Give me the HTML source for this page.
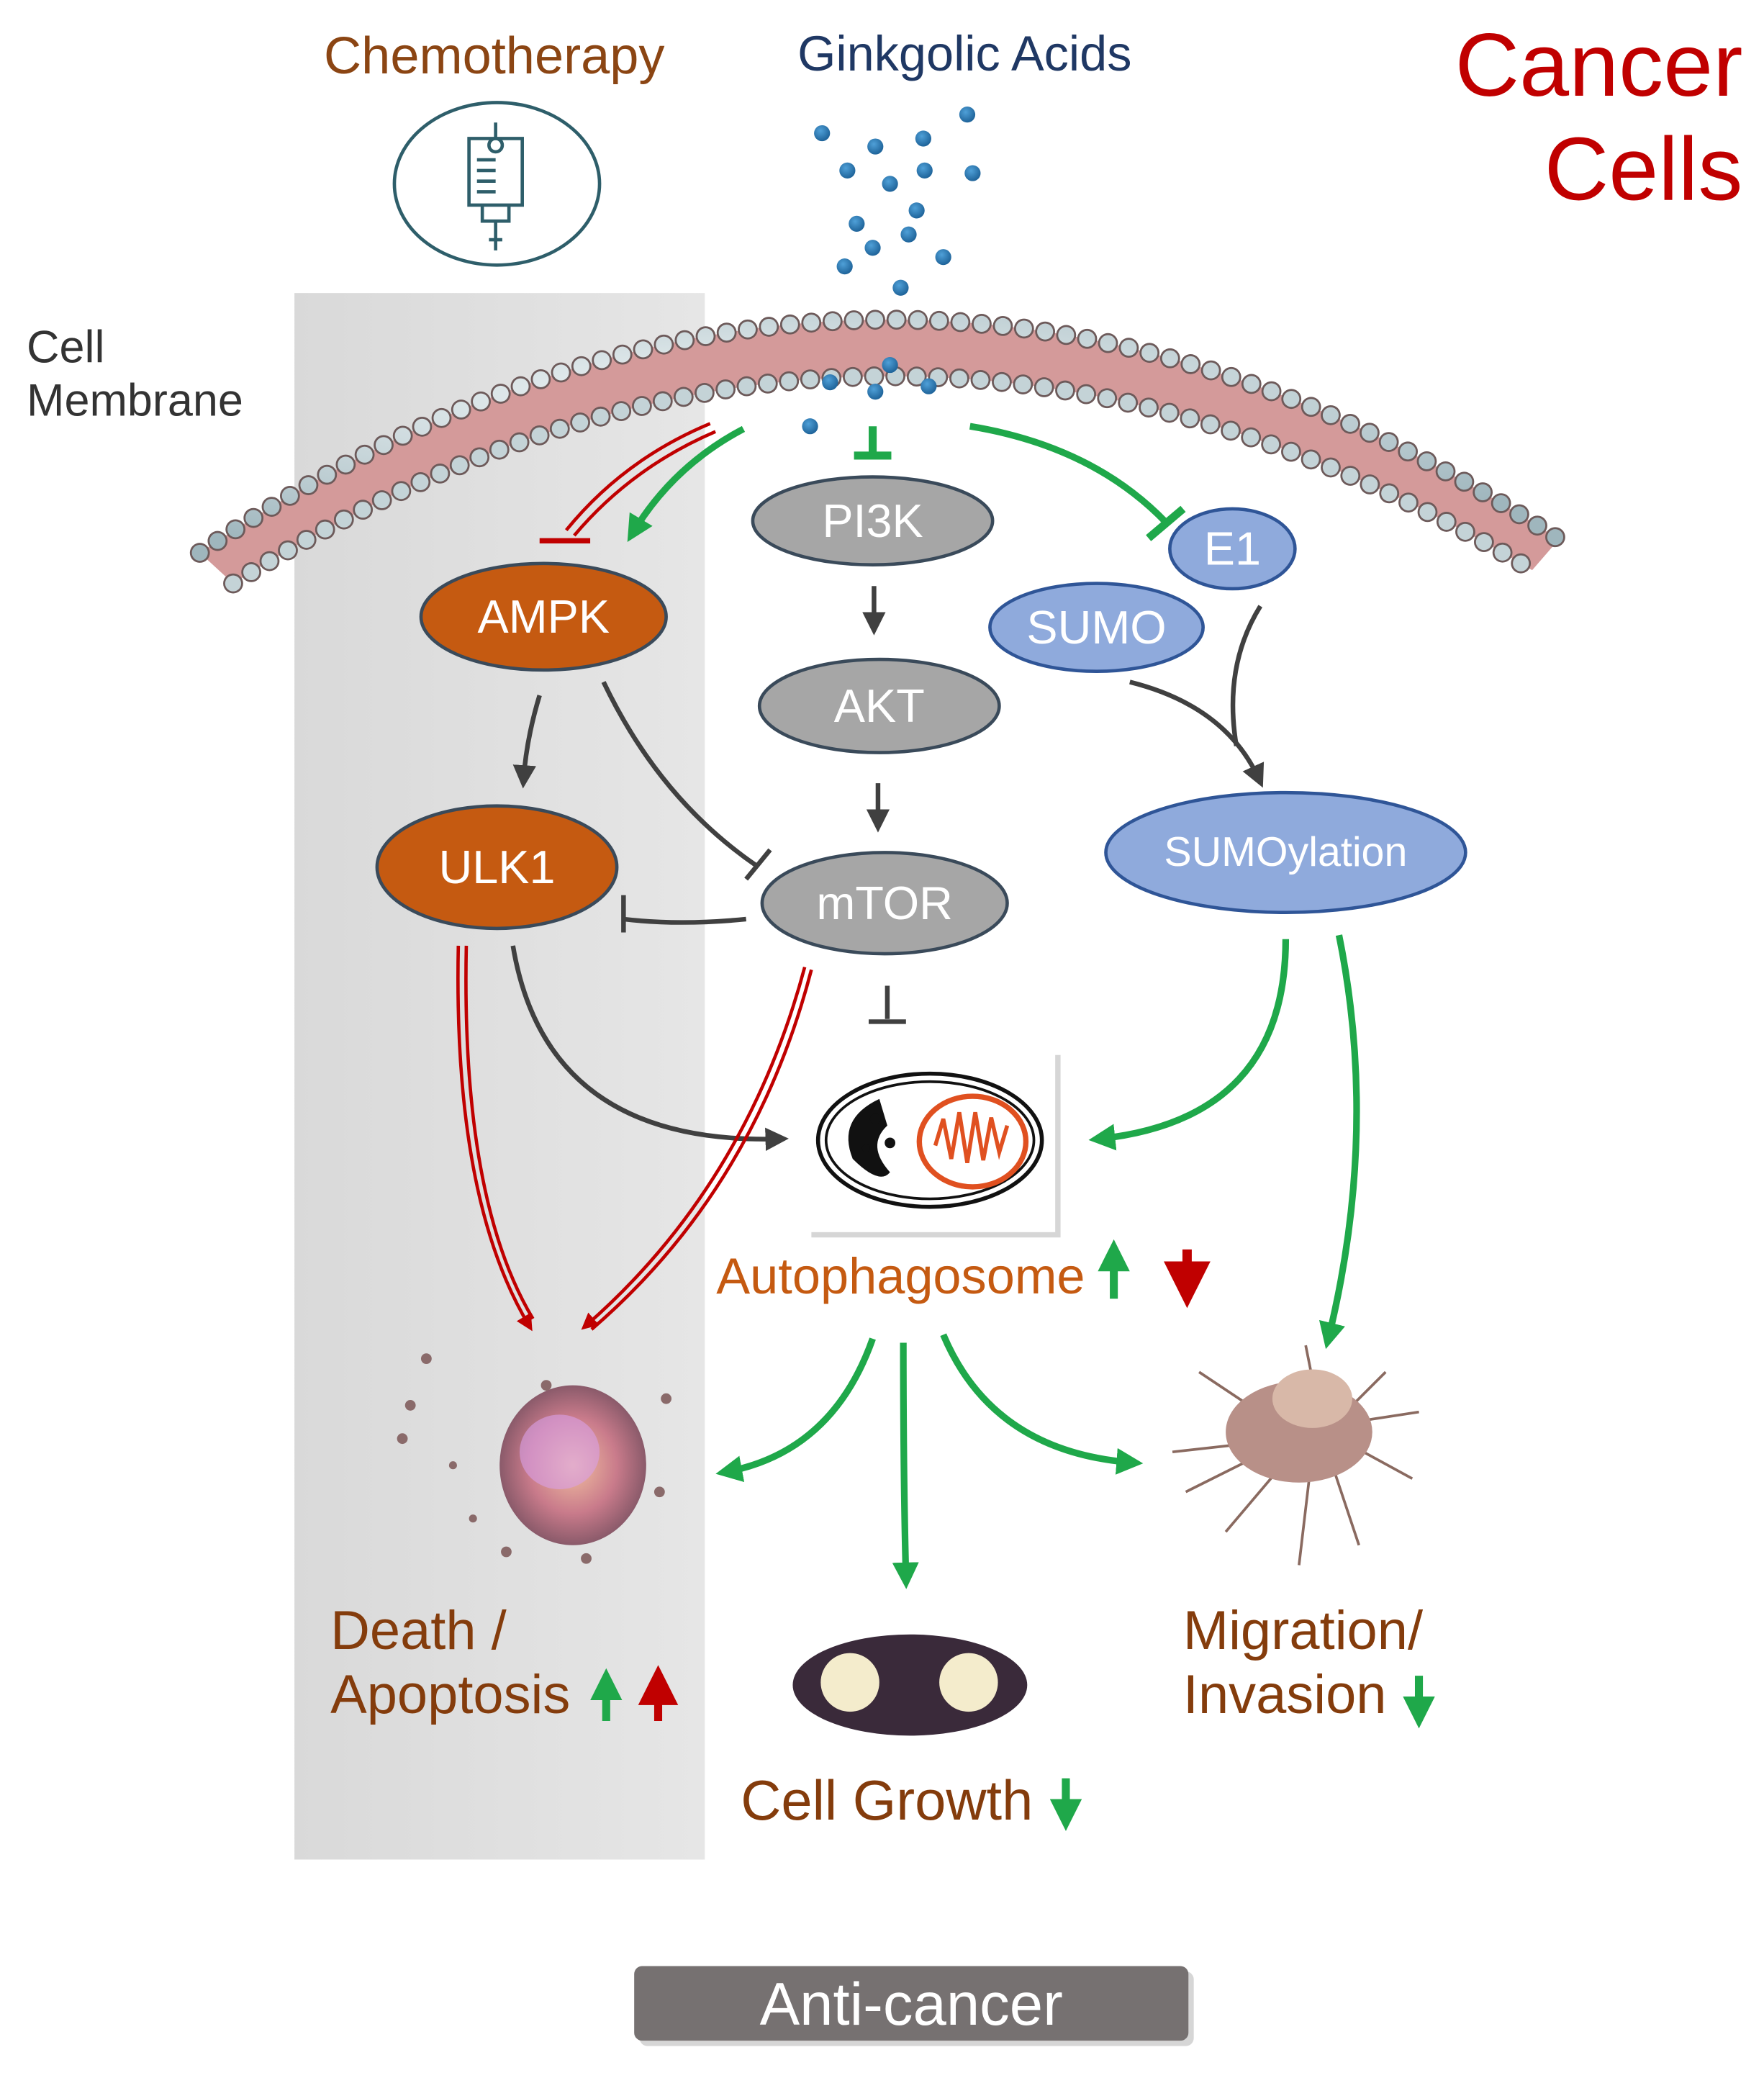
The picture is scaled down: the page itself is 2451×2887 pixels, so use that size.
<!DOCTYPE html>
<html><head><meta charset="utf-8"><style>
html,body{margin:0;padding:0;background:#fff}
svg{display:block}
text{font-family:"Liberation Sans",sans-serif}
</style></head><body>
<svg width="2451" height="2887" viewBox="0 0 1324 1560" preserveAspectRatio="none" xmlns="http://www.w3.org/2000/svg">
<defs>
<linearGradient id="pg" x1="0" x2="1"><stop offset="0" stop-color="#d9d9d9"/><stop offset="1" stop-color="#e6e6e6"/></linearGradient>
<marker id="ag" viewBox="0 0 10 10" refX="6" refY="5" markerWidth="4" markerHeight="4" orient="auto"><path d="M0,0L10,5L0,10z" fill="#1fa84a"/></marker>
<marker id="ak" viewBox="0 0 10 10" refX="6" refY="5" markerWidth="5" markerHeight="5" orient="auto"><path d="M0,0L10,5L0,10z" fill="#404040"/></marker>
<marker id="ar" viewBox="0 0 10 10" refX="6" refY="5" markerWidth="5" markerHeight="5" orient="auto"><path d="M0,0L10,5L0,10z" fill="#c00000"/></marker>
<radialGradient id="bead" cx="0.4" cy="0.35" r="0.7"><stop offset="0" stop-color="#f2f7f8"/><stop offset="1" stop-color="#9fb6bd"/></radialGradient>
<radialGradient id="dot" cx="0.4" cy="0.35" r="0.7"><stop offset="0" stop-color="#4fa0d8"/><stop offset="1" stop-color="#1b5f95"/></radialGradient>
<radialGradient id="blob" cx="0.5" cy="0.5" r="0.5"><stop offset="0" stop-color="#f2c0a0"/><stop offset="0.6" stop-color="#c97b8b"/><stop offset="1" stop-color="#8a5a6a"/></radialGradient>
</defs>
<rect x="221" y="220" width="308" height="1176" fill="url(#pg)"/>
<path d="M150,415 Q660,70 1170,405 L1150,428 Q660,132 175,438 Z" fill="#d49a9a"/>
<path d="M150,415 Q660,70 1170,405" fill="none" stroke="#6d5a5a" stroke-width="15" stroke-dasharray="0 16" stroke-linecap="round"/>
<path d="M150,415 Q660,70 1170,405" fill="none" stroke="url(#bead)" stroke-width="12" stroke-dasharray="0 16" stroke-linecap="round"/>
<path d="M175,438 Q660,132 1150,428" fill="none" stroke="#6d5a5a" stroke-width="15" stroke-dasharray="0 16" stroke-linecap="round"/>
<path d="M175,438 Q660,132 1150,428" fill="none" stroke="#c4d3d7" stroke-width="12" stroke-dasharray="0 16" stroke-linecap="round"/>
<text x="371" y="55" font-size="39" fill="#8b4513" text-anchor="middle">Chemotherapy</text>
<text x="724" y="53" font-size="37" fill="#1f3864" text-anchor="middle">Ginkgolic Acids</text>
<text x="1308" y="72" font-size="67" fill="#c00000" text-anchor="end">Cancer</text>
<text x="1308" y="150" font-size="67" fill="#c00000" text-anchor="end">Cells</text>
<text x="20" y="272" font-size="34" fill="#333">Cell</text>
<text x="20" y="312" font-size="34" fill="#333">Membrane</text>
<ellipse cx="373" cy="138" rx="77" ry="61" fill="none" stroke="#2e5e6a" stroke-width="2.5"/>
<g fill="none" stroke="#2e5e6a" stroke-width="2.5"><path d="M372,92v12M352,104h40v50h-40z M362,154v12h20v-12M372,166v22M367,180h10"/><circle cx="372" cy="109" r="5"/><path d="M358,120h14M358,128h14M358,136h14M358,144h14"/></g>
<g fill="url(#dot)">
<circle cx="617" cy="100" r="6"/><circle cx="657" cy="110" r="6"/><circle cx="693" cy="104" r="6"/><circle cx="726" cy="86" r="6"/>
<circle cx="636" cy="128" r="6"/><circle cx="668" cy="138" r="6"/><circle cx="694" cy="128" r="6"/><circle cx="730" cy="130" r="6"/>
<circle cx="643" cy="168" r="6"/><circle cx="688" cy="158" r="6"/><circle cx="655" cy="186" r="6"/><circle cx="682" cy="176" r="6"/><circle cx="708" cy="193" r="6"/><circle cx="634" cy="200" r="6"/><circle cx="676" cy="216" r="6"/>
<circle cx="623" cy="287" r="6"/><circle cx="657" cy="294" r="6"/><circle cx="697" cy="290" r="6"/><circle cx="668" cy="274" r="6"/><circle cx="608" cy="320" r="6"/>
</g>
<g fill="none" stroke="#1fa84a" stroke-width="5">
<path d="M558,322 Q505,350 475,400" marker-end="url(#ag)"/>
<path d="M655,320v22M641,342h28" stroke-width="6"/>
<path d="M728,320 Q820,335 875,392"/><path d="M862,404l26,-22" stroke-width="6"/>
</g>
<g fill="none" stroke="#c00000" stroke-width="2.5">
<path d="M533,318 Q468,345 425,398"/><path d="M537,324 Q474,351 431,402"/>
<path d="M405,406h38" stroke-width="4"/>
</g>
<g stroke="#3a4a5a" stroke-width="2.5">
<ellipse cx="408" cy="463" rx="92" ry="40" fill="#c55a11"/>
<ellipse cx="373" cy="651" rx="90" ry="46" fill="#c55a11"/>
<ellipse cx="655" cy="391" rx="90" ry="33" fill="#a6a6a6"/>
<ellipse cx="660" cy="530" rx="90" ry="35" fill="#a6a6a6"/>
<ellipse cx="664" cy="678" rx="92" ry="38" fill="#a6a6a6"/>
<ellipse cx="925" cy="412" rx="47" ry="30" fill="#8faadc" stroke="#2f5597"/>
<ellipse cx="823" cy="471" rx="80" ry="33" fill="#8faadc" stroke="#2f5597"/>
<ellipse cx="965" cy="640" rx="135" ry="45" fill="#8faadc" stroke="#2f5597"/>
</g>
<g fill="#fff" font-size="35" text-anchor="middle">
<text x="408" y="475">AMPK</text><text x="373" y="663">ULK1</text>
<text x="655" y="403">PI3K</text><text x="660" y="542">AKT</text><text x="664" y="690">mTOR</text>
<text x="925" y="424">E1</text><text x="823" y="483">SUMO</text><text x="965" y="650" font-size="31">SUMOylation</text>
</g>
<g fill="none" stroke="#404040" stroke-width="3.5">
<path d="M656,440v30" marker-end="url(#ak)"/>
<path d="M659,588v30" marker-end="url(#ak)"/>
<path d="M405,522 Q395,555 393,585" marker-end="url(#ak)"/>
<path d="M453,512 Q495,600 568,650"/><path d="M560,660l18,-22"/>
<path d="M560,690 Q510,695 468,690"/><path d="M468,672v28"/>
<path d="M666,740v25M652,767h28"/>
<path d="M385,710 Q410,860 585,855" marker-end="url(#ak)"/>
<path d="M848,512 Q920,530 945,585" marker-end="url(#ak)"/>
<path d="M946,455 Q918,500 928,560"/>
</g>
<g fill="none" stroke="#c00000" stroke-width="2.5">
<path d="M344,710 Q340,900 397,995" marker-end="url(#ar)"/><path d="M350,710 Q346,900 400,990"/>
<path d="M604,726 Q560,890 440,995" marker-end="url(#ar)"/><path d="M609,728 Q566,893 444,998"/>
</g>
<rect x="609" y="792" width="187" height="137" fill="#bbb" opacity="0.6"/>
<rect x="605" y="788" width="187" height="137" fill="#fff"/>
<ellipse cx="698" cy="856" rx="84" ry="50" fill="none" stroke="#111" stroke-width="3"/>
<ellipse cx="698" cy="856" rx="78" ry="44" fill="none" stroke="#111" stroke-width="2"/>
<ellipse cx="730" cy="857" rx="40" ry="34" fill="none" stroke="#e05020" stroke-width="4"/>
<path d="M702,860 l6,-20 6,30 6,-35 6,38 6,-38 6,36 6,-32 6,26 6,-20" fill="none" stroke="#e05020" stroke-width="3"/>
<path d="M660,825 Q628,840 640,870 Q660,890 668,880 Q650,860 666,845z" fill="#111"/>
<g fill="#111"><circle cx="657" cy="840" r="4"/><circle cx="668" cy="858" r="4"/><circle cx="650" cy="862" r="3"/></g>
<text x="676" y="971" font-size="38" fill="#c55a11" text-anchor="middle">Autophagosome</text>
<path d="M836,975v-35" stroke="#1fa84a" stroke-width="6" marker-end="url(#ag)"/>
<path d="M891,938v30" stroke="#c00000" stroke-width="7" marker-end="url(#ar)"/>
<g fill="none" stroke="#1fa84a" stroke-width="5">
<path d="M965,705 Q965,840 825,855" marker-end="url(#ag)"/>
<path d="M1005,702 Q1035,850 997,1005" marker-end="url(#ag)"/>
<path d="M655,1005 Q625,1090 545,1105" marker-end="url(#ag)"/>
<path d="M678,1008 Q678,1110 680,1185" marker-end="url(#ag)"/>
<path d="M708,1002 Q745,1090 850,1098" marker-end="url(#ag)"/>
</g>
<ellipse cx="430" cy="1100" rx="55" ry="60" fill="url(#blob)"/>
<ellipse cx="420" cy="1090" rx="30" ry="28" fill="#d8a0e8" opacity="0.6"/>
<g fill="#8a6a6a"><circle cx="320" cy="1020" r="4"/><circle cx="308" cy="1055" r="4"/><circle cx="302" cy="1080" r="4"/><circle cx="340" cy="1100" r="3"/><circle cx="500" cy="1050" r="4"/><circle cx="495" cy="1120" r="4"/><circle cx="380" cy="1165" r="4"/><circle cx="440" cy="1170" r="4"/><circle cx="355" cy="1140" r="3"/><circle cx="410" cy="1040" r="4"/></g>
<ellipse cx="683" cy="1265" rx="88" ry="38" fill="#3a2a3a"/>
<circle cx="638" cy="1263" r="22" fill="#f4eccc"/><circle cx="727" cy="1263" r="22" fill="#f4eccc"/>
<g stroke="#8a6a60" stroke-width="2" fill="none">
<path d="M970,1080 L880,1090 M970,1080 L890,1120 M975,1085 L920,1150 M985,1090 L975,1175 M995,1085 L1020,1160 M1005,1080 L1060,1110 M1000,1070 L1065,1060 M960,1070 L900,1030 M990,1060 L980,1010 M1010,1060 L1040,1030"/>
</g>
<ellipse cx="975" cy="1075" rx="55" ry="38" fill="#b89088"/>
<ellipse cx="985" cy="1050" rx="30" ry="22" fill="#d8b8a8"/>
<g font-size="41" fill="#843c0c">
<text x="248" y="1238">Death /</text><text x="248" y="1286">Apoptosis</text>
<text x="556" y="1366" font-size="42">Cell Growth</text>
<text x="888" y="1238">Migration/</text><text x="888" y="1286">Invasion</text>
</g>
<path d="M455,1292v-30" stroke="#1fa84a" stroke-width="6" marker-end="url(#ag)"/>
<path d="M494,1292v-30" stroke="#c00000" stroke-width="6" marker-end="url(#ar)"/>
<path d="M800,1335v30" stroke="#1fa84a" stroke-width="6" marker-end="url(#ag)"/>
<path d="M1065,1258v30" stroke="#1fa84a" stroke-width="6" marker-end="url(#ag)"/>
<rect x="480" y="1480" width="416" height="56" rx="6" fill="#bbb" opacity="0.6"/>
<rect x="476" y="1476" width="416" height="56" rx="6" fill="#767171"/>
<text x="684" y="1520" font-size="45" fill="#fff" text-anchor="middle">Anti-cancer</text>
</svg>
</body></html>
